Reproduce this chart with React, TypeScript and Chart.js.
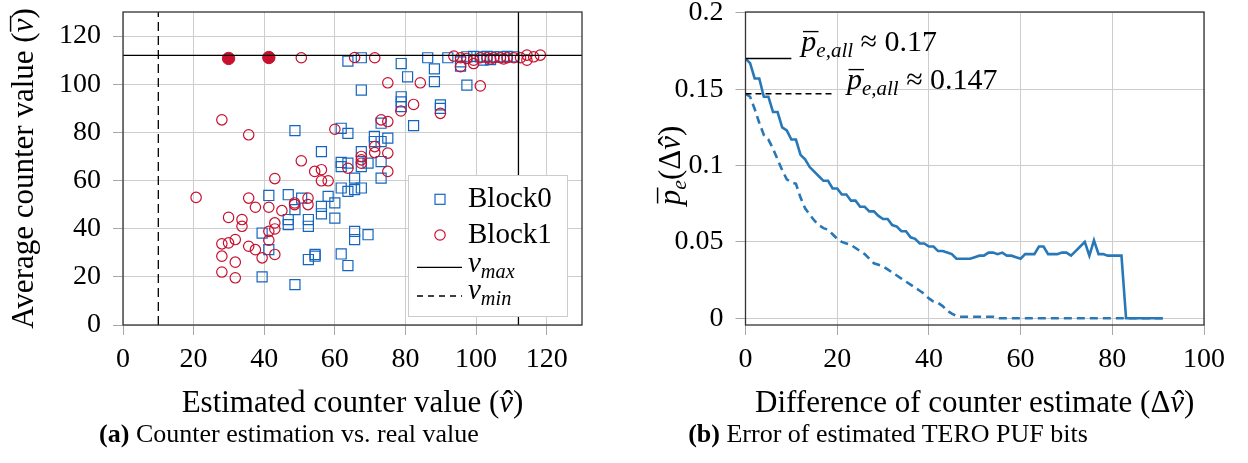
import React, { useEffect, useRef } from 'react';
import { Chart, registerables } from 'chart.js';

Chart.register(...registerables);

const FAMILY = "'Liberation Serif', 'Times New Roman', serif";
const BLUE = '#1565c0';
const RED = '#c8102e';
const LINE_BLUE = '#2878b8';
const GRID = '#cdcdcd';
const TICK = '#a8a8a8';
const FRAME = '#333333';

// ---------- (a) Counter estimation vs. real value ----------
const V_MAX = 112;
const V_MIN = 10;
const xLimitsA = [0, 130];
const yLimitsA = [0, 130];
const xTicksA = [0, 20, 40, 60, 80, 100, 120];
const yTicksA = [0, 20, 40, 60, 80, 100, 120];

// [estimated counter value, average counter value]
const block0Points: [number, number][] = [
  [63.7, 109.6], [67.5, 111.0], [78.8, 108.6], [80.6, 103.1], [86.3, 111.0], [88.2, 106.4], [88.2, 101.1], [92.0, 111.0], [97.4, 99.6], [67.5, 97.6],
  [78.8, 94.8], [78.8, 92.7], [78.8, 90.7], [89.9, 91.4], [89.9, 90.0], [82.3, 82.8], [48.7, 80.7], [61.8, 81.7], [63.7, 79.6], [56.2, 72.0],
  [71.2, 78.3], [71.2, 76.2], [73.1, 83.8], [73.1, 76.2], [75.0, 77.6], [61.8, 67.5], [61.8, 65.8], [63.7, 67.2], [69.4, 67.2], [67.5, 65.8],
  [73.1, 67.9], [73.1, 61.0], [67.5, 72.0], [61.8, 56.9], [63.7, 55.5], [65.6, 61.0], [65.6, 56.2], [67.5, 56.9], [41.3, 53.8], [46.8, 54.1],
  [48.7, 47.9], [50.6, 52.7], [46.8, 43.8], [46.8, 41.7], [52.5, 43.8], [52.5, 41.0], [56.2, 49.3], [56.2, 46.2], [58.1, 53.4], [60.0, 50.7],
  [60.0, 44.4], [39.4, 38.2], [41.3, 31.3], [65.6, 38.9], [65.6, 35.5], [69.4, 37.5], [52.5, 27.2], [54.4, 29.3], [54.4, 28.6], [61.8, 29.5],
  [63.7, 24.7], [39.4, 20.0], [48.7, 16.8],
  [95.6, 109.3], [95.6, 107.5], [97.4, 111.4], [99.3, 111.6], [101.2, 111.4], [103.1, 111.6], [105.0, 111.4], [106.9, 111.4], [108.8, 111.6],
  [110.7, 111.4], [104.1, 110.2], [102.0, 110.0],
];

const block1Points: [number, number][] = [
  [20.7, 53.0], [28.0, 85.2], [35.6, 79.0], [50.5, 111.0], [65.6, 111.1], [71.3, 111.0], [60.0, 81.3], [75.0, 100.6], [84.2, 100.6], [82.3, 91.6],
  [78.7, 88.9], [89.9, 87.9], [73.1, 85.2], [75.0, 84.5], [101.2, 99.3], [50.5, 68.2], [54.3, 63.8], [56.2, 64.5], [56.2, 59.9], [58.1, 59.9],
  [63.7, 65.1], [67.5, 70.0], [67.5, 68.6], [67.5, 67.2], [71.3, 74.1], [71.3, 71.6], [75.0, 71.4], [75.0, 63.8], [43.0, 60.8], [35.6, 52.7],
  [37.5, 48.9], [41.3, 48.9], [45.0, 47.5], [48.6, 50.7], [48.6, 50.0], [52.4, 52.7], [52.4, 50.0], [29.9, 44.7], [33.7, 43.8], [33.7, 41.0],
  [43.0, 42.4], [43.0, 39.9], [41.3, 38.9], [41.3, 35.2], [31.8, 35.5], [29.9, 34.1], [28.0, 33.7], [35.6, 32.7], [37.5, 31.3], [39.4, 27.9],
  [43.0, 29.3], [28.0, 28.6], [31.8, 26.1], [28.0, 22.0], [31.8, 19.6],
  [93.7, 111.7], [95.6, 111.0], [95.6, 107.3], [97.4, 110.7], [99.3, 110.0], [99.3, 108.6], [101.2, 111.0], [103.1, 111.0], [105.0, 111.0],
  [106.9, 111.0], [108.8, 111.0], [110.7, 111.0], [112.6, 111.0], [114.4, 112.1], [114.4, 110.0], [116.3, 111.4], [118.2, 112.1],
  [104.1, 110.5], [107.8, 110.5],
];

const block1FilledPoints: [number, number][] = [
  [29.9, 110.7], [41.3, 111.1],
];

// ---------- (b) Error of estimated TERO PUF bits ----------
const xLimitsB = [0, 100];
const yLimitsB = [-0.0044, 0.2005];
const xTicksB = [0, 20, 40, 60, 80, 100];
const yTicksB = [0, 0.05, 0.1, 0.15, 0.2];
const yTickLabelsB = ['0', '0.05', '0.1', '0.15', '0.2'];

// index = difference of counter estimate (0 .. 91)
const errSolid = [
  0.170, 0.167, 0.157, 0.157, 0.145, 0.145, 0.135, 0.135, 0.125, 0.123,
  0.117, 0.117, 0.107, 0.104, 0.099, 0.096, 0.093, 0.090, 0.090, 0.085,
  0.085, 0.081, 0.081, 0.077, 0.077, 0.073, 0.073, 0.070, 0.070, 0.067,
  0.065, 0.065, 0.061, 0.060, 0.057, 0.057, 0.053, 0.052, 0.049, 0.049,
  0.047, 0.047, 0.044, 0.044, 0.043, 0.042, 0.039, 0.039, 0.039, 0.039,
  0.040, 0.041, 0.041, 0.043, 0.043, 0.042, 0.043, 0.041, 0.041, 0.040,
  0.039, 0.042, 0.042, 0.042, 0.047, 0.047, 0.042, 0.042, 0.042, 0.043,
  0.043, 0.041, 0.044, 0.047, 0.050, 0.041, 0.051, 0.042, 0.042, 0.041,
  0.041, 0.041, 0.041, 0, 0, 0, 0, 0, 0, 0,
  0, 0,
];

const errDashed = [
  0.147, 0.145, 0.137, 0.128, 0.120, 0.117, 0.111, 0.104, 0.097, 0.091,
  0.089, 0.088, 0.079, 0.072, 0.068, 0.064, 0.061, 0.059, 0.058, 0.055,
  0.052, 0.050, 0.049, 0.048, 0.046, 0.044, 0.042, 0.039, 0.036, 0.035,
  0.034, 0.032, 0.030, 0.028, 0.026, 0.024, 0.022, 0.020, 0.018, 0.016,
  0.013, 0.011, 0.010, 0.008, 0.005, 0.003, 0.0015, 0.001, 0.001, 0.001,
  0.001, 0.001, 0.001, 0.001, 0.001, 0, 0, 0, 0, 0,
  0, 0, 0, 0, 0, 0, 0, 0, 0, 0,
  0, 0, 0, 0, 0, 0, 0, 0, 0, 0,
  0, 0, 0, 0, 0, 0, 0, 0, 0, 0,
  0, 0,
];

const P_ALL_SOLID = 0.17;
const P_ALL_DASHED = 0.147;
const refLineEnds = [10, 19.5]; // x extent of the two short reference lines

// ---------- text helpers ----------
type Run = { t: string; it?: boolean; sub?: boolean; bold?: boolean; acc?: string; accDy?: number };

function runFont(r: Run, size: number) {
  const s = r.sub ? size * 0.7 : size;
  return `${r.it ? 'italic ' : ''}${r.bold ? 'bold ' : ''}${s}px ${FAMILY}`;
}

function measureRuns(ctx: CanvasRenderingContext2D, runs: Run[], size: number) {
  let w = 0;
  for (const r of runs) {
    ctx.font = runFont(r, size);
    w += ctx.measureText(r.t).width;
  }
  return w;
}

function drawRuns(
  ctx: CanvasRenderingContext2D,
  runs: Run[],
  x: number,
  y: number,
  size: number,
  align: 'left' | 'center' = 'left',
  rotate = false,
) {
  ctx.save();
  ctx.translate(x, y);
  if (rotate) ctx.rotate(-Math.PI / 2);
  ctx.textAlign = 'left';
  ctx.textBaseline = 'alphabetic';
  ctx.fillStyle = '#000';
  const w = measureRuns(ctx, runs, size);
  let cx = align === 'center' ? -w / 2 : 0;
  for (const r of runs) {
    ctx.font = runFont(r, size);
    const rw = ctx.measureText(r.t).width;
    const dy = r.sub ? size * 0.2 : 0;
    ctx.fillText(r.t, cx, dy);
    if (r.acc) {
      ctx.font = `${size}px ${FAMILY}`;
      ctx.textAlign = 'center';
      ctx.fillText(r.acc, cx + rw / 2 + (r.it ? size * 0.06 : 0), r.accDy ?? 0);
      ctx.textAlign = 'left';
    }
    cx += rw;
  }
  ctx.restore();
}

const titleXA: Run[] = [{ t: 'Estimated counter value (' }, { t: 'v', it: true, acc: 'ˆ' }, { t: ')' }];
const titleYA: Run[] = [{ t: 'Average counter value (' }, { t: 'v', it: true, acc: '¯', accDy: 1 }, { t: ')' }];
const titleXB: Run[] = [{ t: 'Difference of counter estimate (Δ' }, { t: 'v', it: true, acc: 'ˆ' }, { t: ')' }];
const titleYB: Run[] = [
  { t: 'p', it: true, acc: '¯', accDy: 1 },
  { t: 'e', it: true, sub: true },
  { t: '(Δ' },
  { t: 'v', it: true, acc: 'ˆ' },
  { t: ')' },
];
const annotSolid: Run[] = [{ t: 'p', it: true, acc: '¯', accDy: 2 }, { t: 'e,all', it: true, sub: true }, { t: ' ≈ 0.17' }];
const annotDashed: Run[] = [{ t: 'p', it: true, acc: '¯', accDy: 2 }, { t: 'e,all', it: true, sub: true }, { t: ' ≈ 0.147' }];

const TICK_FONT = { family: FAMILY, size: 28 };
const TITLE_SIZE = 31;
const LEGEND_SIZE = 29;
const ANNOT_SIZE = 30;

function framePlugin(id: string) {
  return {
    id,
    afterDraw(chart: any) {
      const { ctx, chartArea: a } = chart;
      ctx.save();
      ctx.strokeStyle = FRAME;
      ctx.lineWidth = 1.3;
      ctx.strokeRect(a.left, a.top, a.right - a.left, a.bottom - a.top);
      ctx.restore();
    },
  };
}

const decorA = {
  id: 'decorA',
  afterDraw(chart: any) {
    const { ctx, chartArea: a } = chart;
    // axis titles
    drawRuns(ctx, titleXA, (a.left + a.right) / 2, a.bottom + 87, TITLE_SIZE, 'center');
    drawRuns(ctx, titleYA, a.left - 90, (a.top + a.bottom) / 2, TITLE_SIZE, 'center', true);
    // legend
    const bw = 159;
    const bh = 141;
    const bx = a.right - 15 - bw;
    const by = a.bottom - 9 - bh;
    ctx.save();
    ctx.fillStyle = '#fff';
    ctx.fillRect(bx, by, bw, bh);
    ctx.strokeStyle = '#cccccc';
    ctx.lineWidth = 1;
    ctx.strokeRect(bx + 0.5, by + 0.5, bw, bh);
    ctx.lineWidth = 1.2;
    ctx.strokeStyle = BLUE;
    ctx.strokeRect(bx + 32 - 5, by + 24.3 - 5, 10, 10);
    ctx.strokeStyle = RED;
    ctx.beginPath();
    ctx.arc(bx + 32, by + 60, 5.2, 0, Math.PI * 2);
    ctx.stroke();
    ctx.strokeStyle = '#000';
    ctx.lineWidth = 1.3;
    ctx.beginPath();
    ctx.moveTo(bx + 9, by + 92.3);
    ctx.lineTo(bx + 54, by + 92.3);
    ctx.stroke();
    ctx.setLineDash([6, 5]);
    ctx.beginPath();
    ctx.moveTo(bx + 9, by + 121);
    ctx.lineTo(bx + 54, by + 121);
    ctx.stroke();
    ctx.setLineDash([]);
    ctx.restore();
    drawRuns(ctx, [{ t: 'Block0' }], bx + 60, by + 31.7, LEGEND_SIZE);
    drawRuns(ctx, [{ t: 'Block1' }], bx + 60, by + 67.7, LEGEND_SIZE);
    drawRuns(ctx, [{ t: 'v', it: true }, { t: 'max', it: true, sub: true }], bx + 60, by + 96.7, LEGEND_SIZE);
    drawRuns(ctx, [{ t: 'v', it: true }, { t: 'min', it: true, sub: true }], bx + 60, by + 124.3, LEGEND_SIZE);
  },
};

const decorB = {
  id: 'decorB',
  afterDraw(chart: any) {
    const { ctx, chartArea: a, scales } = chart;
    drawRuns(ctx, titleXB, (a.left + a.right) / 2, a.bottom + 87, TITLE_SIZE, 'center');
    drawRuns(ctx, titleYB, a.left - 66, (a.top + a.bottom) / 2 - 3, TITLE_SIZE, 'center', true);
    const xs = scales.x;
    const ys = scales.y;
    drawRuns(ctx, annotSolid, xs.getPixelForValue(refLineEnds[0]) + 10, ys.getPixelForValue(P_ALL_SOLID) - 7.5, ANNOT_SIZE);
    drawRuns(ctx, annotDashed, xs.getPixelForValue(refLineEnds[1]) + 12, ys.getPixelForValue(P_ALL_DASHED) - 5, ANNOT_SIZE);
  },
};

function axisCommon(ticks: number[], fit: (s: any) => void, labels?: string[]) {
  return {
    type: 'linear' as const,
    afterBuildTicks: (s: any) => {
      s.ticks = ticks.map((v) => ({ value: v }));
    },
    afterFit: fit,
    grid: { color: GRID, lineWidth: 1, drawTicks: true, tickLength: 10, tickColor: TICK },
    border: { display: false },
    ticks: {
      font: TICK_FONT,
      color: '#000',
      maxRotation: 0,
      autoSkip: false,
      callback: (v: number) => {
        if (labels) {
          const i = ticks.findIndex((t) => Math.abs(t - v) < 1e-9);
          return i >= 0 ? labels[i] : '';
        }
        return String(v);
      },
    },
  };
}

function configA(): any {
  const pts = (arr: [number, number][]) => arr.map(([x, y]) => ({ x, y }));
  const refLine = { type: 'line', showLine: true, borderColor: '#000', borderWidth: 1.3, pointRadius: 0, fill: false };
  return {
    type: 'scatter',
    data: {
      datasets: [
        { ...refLine, label: 'v_max', data: [{ x: xLimitsA[0], y: V_MAX }, { x: xLimitsA[1], y: V_MAX }] },
        { ...refLine, label: 'v_max ', data: [{ x: V_MAX, y: yLimitsA[0] }, { x: V_MAX, y: yLimitsA[1] }] },
        { ...refLine, label: 'v_min', borderDash: [9, 5], data: [{ x: V_MIN, y: yLimitsA[0] }, { x: V_MIN, y: yLimitsA[1] }] },
        {
          label: 'Block1 ',
          data: pts(block1FilledPoints),
          pointStyle: 'circle',
          pointRadius: 6.2,
          backgroundColor: RED,
          borderColor: RED,
          borderWidth: 1,
        },
        {
          label: 'Block1',
          data: pts(block1Points),
          pointStyle: 'circle',
          pointRadius: 5.2,
          backgroundColor: 'rgba(0,0,0,0)',
          borderColor: RED,
          borderWidth: 1.2,
        },
        {
          label: 'Block0',
          data: pts(block0Points),
          pointStyle: 'rect',
          pointRadius: 7.1,
          backgroundColor: 'rgba(0,0,0,0)',
          borderColor: BLUE,
          borderWidth: 1.2,
        },
      ],
    },
    options: {
      animation: false,
      responsive: false,
      events: [],
      layout: { padding: { left: 0, right: 18, top: 32, bottom: 0 } },
      plugins: { legend: { display: false }, tooltip: { enabled: false } },
      scales: {
        x: {
          ...axisCommon(xTicksA, (s: any) => { s.height = 95; }),
          min: xLimitsA[0],
          max: xLimitsA[1],
          ticks: { ...axisCommon(xTicksA, () => {}).ticks, padding: 8 },
        },
        y: {
          ...axisCommon(yTicksA, (s: any) => { s.width = 123; }),
          min: yLimitsA[0],
          max: yLimitsA[1],
          ticks: { ...axisCommon(yTicksA, () => {}).ticks, padding: 12 },
        },
      },
    },
    plugins: [framePlugin('frameA'), decorA],
  };
}

function configB(): any {
  const series = (arr: number[]) => arr.map((y, x) => ({ x, y }));
  return {
    type: 'line',
    data: {
      datasets: [
        {
          label: 'p_e,all ≈ 0.17',
          data: [{ x: 0, y: P_ALL_SOLID }, { x: refLineEnds[0], y: P_ALL_SOLID }],
          borderColor: '#000',
          borderWidth: 1.5,
          pointRadius: 0,
        },
        {
          label: 'p_e,all ≈ 0.147',
          data: [{ x: 0, y: P_ALL_DASHED }, { x: refLineEnds[1], y: P_ALL_DASHED }],
          borderColor: '#000',
          borderWidth: 1.5,
          borderDash: [6, 4],
          pointRadius: 0,
        },
        {
          label: 'solid',
          data: series(errSolid),
          borderColor: LINE_BLUE,
          borderWidth: 2.6,
          pointRadius: 0,
          tension: 0,
        },
        {
          label: 'dashed',
          data: series(errDashed),
          borderColor: LINE_BLUE,
          borderWidth: 2.6,
          borderDash: [8, 5],
          pointRadius: 0,
          tension: 0,
        },
      ],
    },
    options: {
      animation: false,
      responsive: false,
      events: [],
      layout: { padding: { left: 0, right: 44, top: 32, bottom: 0 } },
      plugins: { legend: { display: false }, tooltip: { enabled: false } },
      scales: {
        x: {
          ...axisCommon(xTicksB, (s: any) => { s.height = 95; }),
          min: xLimitsB[0],
          max: xLimitsB[1],
          ticks: { ...axisCommon(xTicksB, () => {}).ticks, padding: 8 },
        },
        y: {
          ...axisCommon(yTicksB, (s: any) => { s.width = 125.5; }, yTickLabelsB),
          min: yLimitsB[0],
          max: yLimitsB[1],
          ticks: { ...axisCommon(yTicksB, () => {}, yTickLabelsB).ticks, padding: 12 },
        },
      },
    },
    plugins: [framePlugin('frameB'), decorB],
  };
}

function ChartCanvas({ make, style, width, height }: { make: () => any; style: React.CSSProperties; width: number; height: number }) {
  const ref = useRef<HTMLCanvasElement | null>(null);
  useEffect(() => {
    if (!ref.current) return;
    const chart = new Chart(ref.current, make());
    return () => chart.destroy();
  }, [make]);
  return <canvas ref={ref} width={width} height={height} style={{ position: 'absolute', width, height, ...style }} />;
}

const captionStyle: React.CSSProperties = {
  position: 'absolute',
  top: 421,
  width: 440,
  textAlign: 'center',
  fontFamily: FAMILY,
  fontSize: 26,
  lineHeight: '26px',
  color: '#000',
  whiteSpace: 'nowrap',
};

export default function App() {
  return (
    <div style={{ position: 'fixed', left: 0, top: 0, width: 1248, height: 463, background: '#fff', overflow: 'hidden' }}>
      <ChartCanvas make={configA} width={600} height={440} style={{ left: 0, top: -20 }} />
      <ChartCanvas make={configB} width={628} height={440} style={{ left: 620, top: -20 }} />
      <div style={{ ...captionStyle, left: 69 }}>
        <b>(a)</b> Counter estimation vs. real value
      </div>
      <div style={{ ...captionStyle, left: 668 }}>
        <b>(b)</b> Error of estimated TERO PUF bits
      </div>
    </div>
  );
}
